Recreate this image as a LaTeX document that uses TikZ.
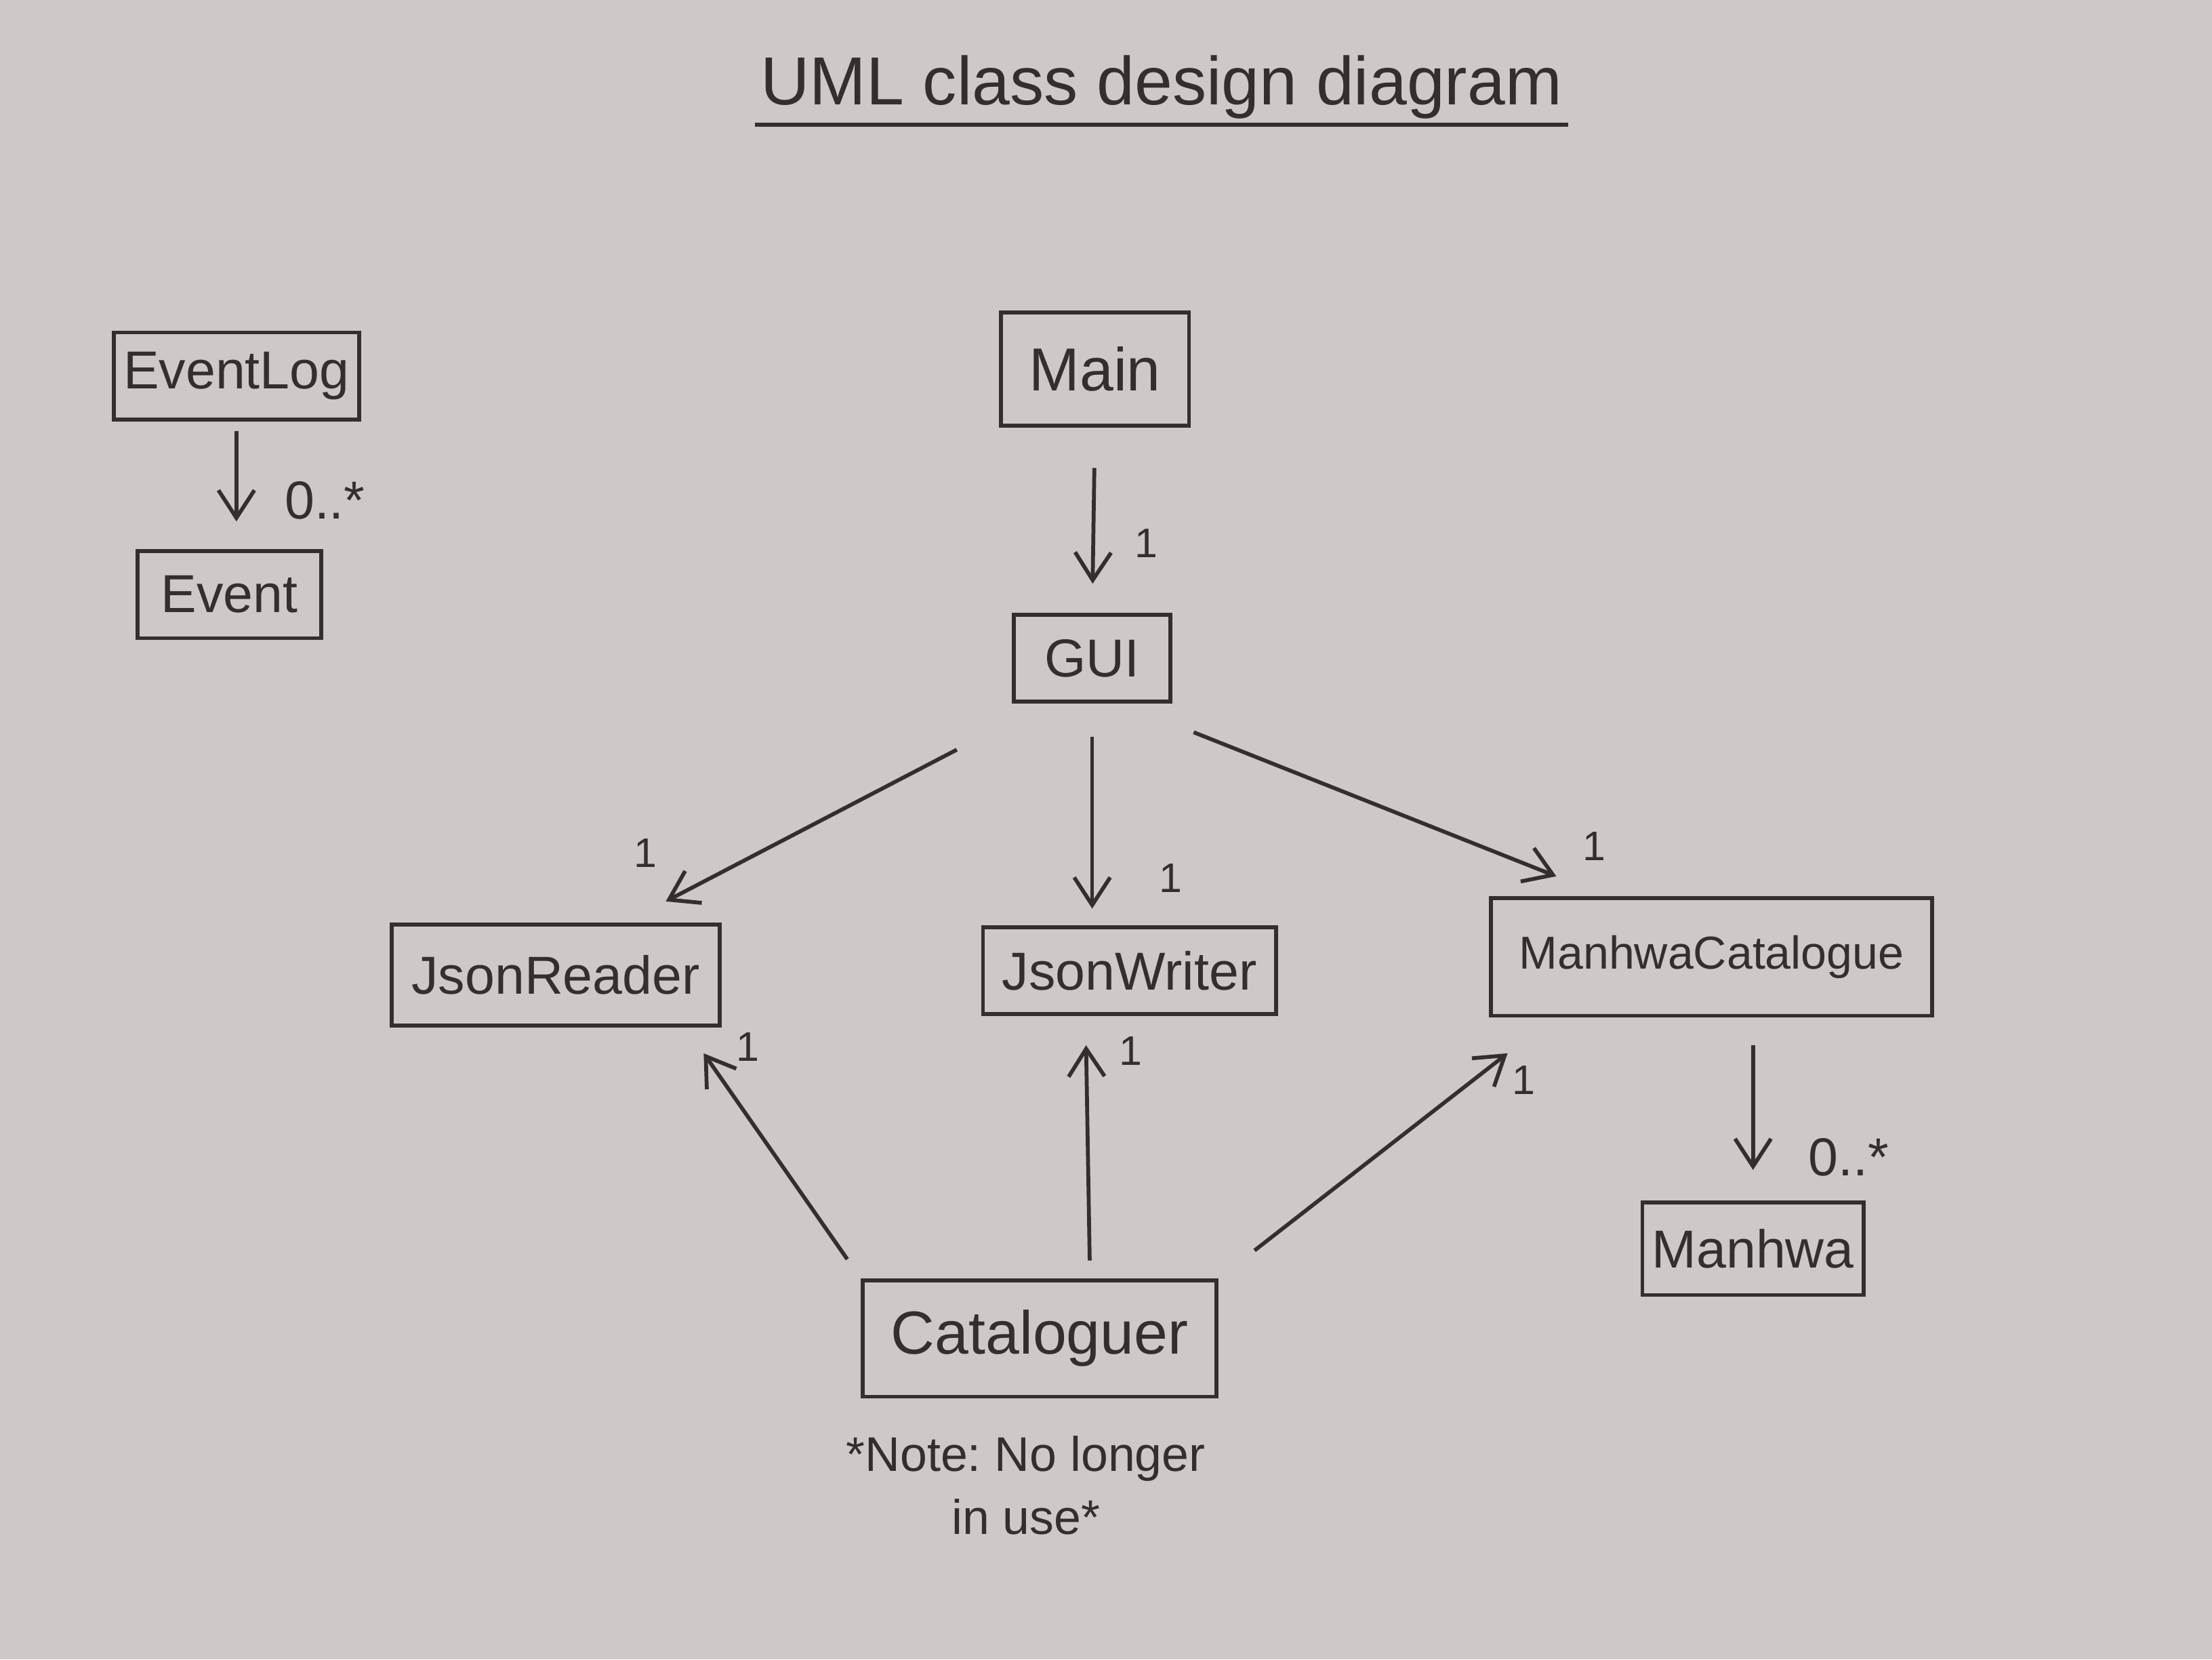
\documentclass[tikz,border=0pt]{standalone}
\usepackage{fontspec}
\setmainfont{Liberation Sans}
\usepackage{xcolor}
\definecolor{paper}{RGB}{206,200,199}
\definecolor{pencil}{RGB}{52,47,45}
\usepackage{tikz}
\usetikzlibrary{arrows.meta}
\newcommand{\fsize}[1]{\fontsize{#1}{#1}\selectfont}
\tikzset{
    common/.style={draw=pencil, rectangle, thick, text=pencil, inner xsep=2pt},
    klass/.style={common, font=\fsize{11}, minimum height=0.63cm},
    assoc/.style={-{Straight Barb[length=2mm, width=2.6mm]}, pencil, thick},
    mult/.style={text=pencil, font=\fsize{11}},
    one/.style={mult, font=\fsize{8.5}},
    heading/.style={text=pencil, font=\fsize{14}, inner sep=1pt},
    remark/.style={text=pencil, font=\fontsize{10}{13}\selectfont\frenchspacing, align=center}
}

\begin{document}
\begin{tikzpicture}
      \fill[paper] (0,0) rectangle (16,12);
      \useasboundingbox (0,0) rectangle (16,12);

      \node[heading, minimum width=5.85cm] (title) at (8.40,11.37) {UML class design diagram};
      \draw[pencil, thick] (title.south west) -- (title.south east);

      \node[klass, minimum width=1.77cm] (eventlog) at (1.71,9.28) {EventLog};
      \node[klass, minimum width=1.33cm] (event) at (1.66,7.70) {Event};
      \node[klass, minimum width=1.36cm, minimum height=0.82cm, font=\fsize{12.5}] (main) at (7.92,9.33) {Main};
      \node[klass, minimum width=1.13cm] (gui) at (7.90,7.24) {GUI};
      \node[klass, minimum width=2.37cm, minimum height=0.73cm] (jsonreader) at (4.02,4.95) {JsonReader};
      \node[klass, minimum width=2.12cm] (jsonwriter) at (8.17,4.98) {JsonWriter};
      \node[klass, minimum width=3.19cm, minimum height=0.85cm, font=\fsize{9.5}] (catalogue) at (12.38,5.08) {ManhwaCatalogue};
      \node[klass, minimum width=1.60cm, minimum height=0.67cm] (manhwa) at (12.68,2.97) {Manhwa};
      \node[klass, minimum width=2.56cm, minimum height=0.84cm, font=\fsize{12.5}] (cataloguer) at (7.52,2.32) {Cataloguer};
      \node[remark] (note) at (7.42,1.26) {*Note: No longer\\in use*};

      \node[mult] (m-event) at (2.35,8.38) {0..*};
      \node[one] (m-gui) at (8.29,8.07) {1};
      \node[one] (m-reader-top) at (4.67,5.83) {1};
      \node[one] (m-writer-top) at (8.47,5.65) {1};
      \node[one] (m-catalogue-top) at (11.53,5.88) {1};
      \node[one] (m-reader-bottom) at (5.41,4.43) {1};
      \node[one] (m-writer-bottom) at (8.18,4.40) {1};
      \node[one] (m-catalogue-bottom) at (11.02,4.19) {1};
      \node[mult] (m-manhwa) at (13.37,3.63) {0..*};

      \draw[assoc, shorten <=0.07cm, shorten >=0.2cm] (eventlog.south) -- (eventlog.south |- event.north);
      \draw[assoc, shorten <=0.29cm, shorten >=0.21cm] (main.south) -- (gui.north);
      \draw[assoc, shorten <=0.72cm, shorten >=0.33cm] (gui.224) -- (jsonreader.37);
      \draw[assoc, shorten <=0.24cm, shorten >=0.12cm] (gui.south) -- (gui.south |- jsonwriter.north);
      \draw[assoc, shorten <=0.56cm, shorten >=0.39cm] (gui.303) -- (catalogue.150);
      \draw[assoc, shorten <=0.17cm, shorten >=0.23cm] (cataloguer.north west) -- (jsonreader.-22);
      \draw[assoc, shorten <=0.13cm, shorten >=0.21cm] (cataloguer.50) -- (jsonwriter.226);
      \draw[assoc, shorten <=0.33cm, shorten >=0.42cm] (cataloguer.north east) -- (catalogue.201);
      \draw[assoc, shorten <=0.2cm, shorten >=0.22cm] (manhwa.north |- catalogue.south) -- (manhwa.north);
\end{tikzpicture}
\end{document}
